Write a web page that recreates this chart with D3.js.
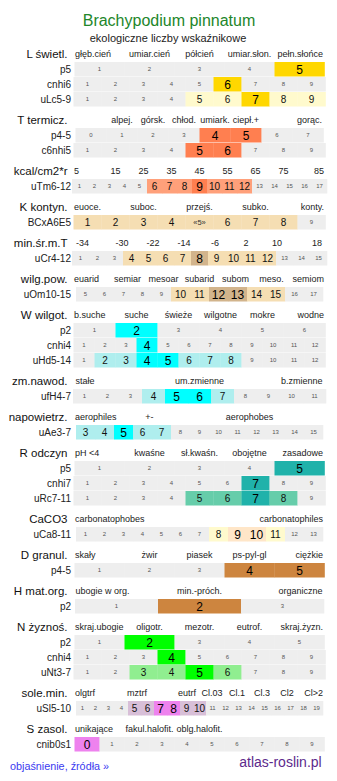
<!DOCTYPE html>
<html><head><meta charset="utf-8">
<script src="https://cdn.jsdelivr.net/npm/d3@7"></script>
<style>
body{margin:0;background:#fff;}
svg{display:block;font-family:"Liberation Sans",Arial,Helvetica,sans-serif;}
</style>
</head><body>
<svg id="chart" width="337" height="781"></svg>
<script>
// ---------- DATA ----------
const title = "Brachypodium pinnatum";
const subtitle = "ekologiczne liczby wskaźnikowe";
const footerLeft = "objaśnienie, źródła »";
const footerRight = "atlas-roslin.pl";

const groupNames = ["L świetl.","T termicz.","kcal/cm2*r","K kontyn.","min.śr.m.T","wilg.pow.","W wilgot.","zm.nawod.","napowietrz.","R odczyn","CaCO3","D granul.","H mat.org.","N żyznoś.","sole.min.","S zasol."];

const groupTicks = [
  ["głęb.cień","umiar.cień","półcień","umiar.słon.","pełn.słońce"],
  ["","alpej.","górsk.","chłod.","umiark.","ciepł.+","","gorąc."],
  ["5","15","25","35","45","55","65","75","85"],
  ["euoce.","","suboc.","","przejś.","","subko.","","konty."],
  ["-34","-30","-22","-14","-6","2","10","18"],
  ["euarid","semiar","mesoar","subarid","subom","meso.","semiom"],
  ["b.suche","suche","świeże","wilgotne","mokre","wodne"],
  ["stałe","um.zmienne","b.zmienne"],
  ["aerophiles","+-","","aerophobes",""],
  ["pH <4","kwaśne","sł.kwaśn.","obojętne","zasadowe"],
  ["carbonatophobes","carbonatophiles"],
  ["skały","żwir","piasek","ps-pyl-gl","ciężkie"],
  ["ubogie w org.","min.-próch.","organiczne"],
  ["skraj.ubogie","oligotr.","mezotr.","eutrof.","skraj.żyzn."],
  ["olgtrf","","mztrf","","eutrf","Cl.03","Cl.1","Cl.3","Cl2","Cl>2"],
  ["unikające","fakul.halofit.","oblg.halofit.","",""]
];

const groupMainColors  = ["#ffd700","#ff7f50","#ff7f50","#f5deb3","#d2b48c","#d2b48c","#00ffff","#00ffff","#00ffff","#20b2aa","#ffe6c8","#cd853f","#cd853f","#00ff00","#ee82ee","#ee82ee"];
const groupRangeColors = ["#fffacd","#ffa07a","#ffa07a","#f5deb3","#f5deb3","#f5deb3","#afeeee","#afeeee","#afeeee","#66cdaa","#fffacd","#deb887","#deb887","#90ee90","#d8bfd8","#d8bfd8"];

const rowGroup  = [0,0,0,1,1,2,3,4,5,6,6,6,7,8,9,9,9,10,11,12,13,13,13,14,15];
const rowNames  = ["p5","cnhi6","uLc5-9","p4-5","c6nhi5","uTm6-12","BCxA6E5","uCr4-12","uOm10-15","p2","cnhi4","uHd5-14","ufH4-7","uAe3-7","p5","cnhi7","uRc7-11","uCa8-11","p4-5","p2","p2","cnhi4","uNt3-7","uSl5-10","cnib0s1"];
const rowExtent = [[1,5],[1,9],[1,9],[0,7],[1,9],[1,17],[1,9],[1,15],[5,17],[1,6],[1,12],[1,12],[1,11],[3,15],[1,5],[1,9],[1,9],[1,13],[1,5],[1,3],[1,5],[1,9],[1,9],[1,19],[0,9]];
const rowMain   = [[5],[6],[7],[4,5],[5,6],[9],[],[8],[12,13],[2],[4],[4,5],[5,6],[5],[5],[7],[7],[9,10],[4,5],[2],[2],[4],[5],[7,8],[0]];
const rowRange  = [[],[],[5,6,8,9],[],[],[6,7,8,10,11,12],[1,2,3,4,5,6,7,8],[4,5,6,7,9,10,11,12],[10,11,14,15],[],[],[2,3,6,7,8],[4,7],[3,4,6,7],[],[],[5,6,8],[8,11],[],[],[],[],[3,4,6],[5,6,9,10],[]];
const quotedCells = [[6,5]]; // row index, value shown as «v»

// ---------- LAYOUT ----------
const svg = d3.select("#chart");
const CX = 199.5, SPAN = 250;
const HEAD_X = 67.5, ROWLAB_X = 71;
const ROW_H = 14.5, ROW_PITCH = 15;
const FONT = '"Liberation Sans",Arial,Helvetica,sans-serif';

function bandFor(domain){
  const n = domain.length, w = Math.round(SPAN / n), W = n * w;
  return d3.scaleBand().domain(domain).range([CX - W/2, CX + W/2]).paddingInner(0).paddingOuter(0);
}

svg.append("text").attr("x",169).attr("y",20).attr("dy","0.35em")
  .attr("text-anchor","middle").attr("font-size",16).attr("fill","#22862a").text(title);
svg.append("text").attr("x",168).attr("y",38).attr("dy","0.35em")
  .attr("text-anchor","middle").attr("font-size",11).attr("fill","#222").text(subtitle);

// group header y positions
const groupY = [];
let cursor = 54;
groupNames.forEach((g,gi)=>{
  groupY[gi] = cursor;
  const n = rowGroup.filter(r=>r===gi).length;
  cursor += 36 + ROW_PITCH*(n-1);
});

groupNames.forEach((g,gi)=>{
  const y = groupY[gi];
  svg.append("text").attr("x",HEAD_X).attr("y",y).attr("dy","0.35em")
    .attr("text-anchor","end").attr("font-size",11.5).attr("fill","#111").text(g);
  const ticks = groupTicks[gi];
  const sc = bandFor(ticks.map((t,i)=>i));
  const [r0,r1] = sc.range();
  ticks.forEach((t,i)=>{
    if(!t) return;
    let x, anchor;
    if(i===0){ x = r0 + 0.5; anchor = "start"; }
    else if(i===ticks.length-1){ x = r1 - 1.5; anchor = "end"; }
    else { x = sc(i) + sc.bandwidth()/2; anchor = "middle"; }
    svg.append("text").attr("x",x).attr("y",y).attr("dy","0.35em")
      .attr("text-anchor",anchor).attr("font-size",9).attr("fill","#222").text(t);
  });
});

// rows
const rowIdxInGroup = {};
rowNames.forEach((name,ri)=>{
  const gi = rowGroup[ri];
  const k = rowIdxInGroup[gi] = (rowIdxInGroup[gi]===undefined ? 0 : rowIdxInGroup[gi]+1);
  const top = groupY[gi] + 8 + k*ROW_PITCH;
  const cy = top + ROW_H/2;
  const domain = d3.range(rowExtent[ri][0], rowExtent[ri][1]+1);
  const x = bandFor(domain);
  const bw = x.bandwidth();

  svg.append("text").attr("x",ROWLAB_X).attr("y",cy).attr("dy","0.35em")
    .attr("text-anchor","end").attr("font-size",10).attr("fill","#222").text(name);

  const g = svg.append("g");
  g.selectAll("rect").data(domain).join("rect")
    .attr("x",d=>x(d)).attr("y",top).attr("width",bw+0.3).attr("height",ROW_H)
    .attr("fill",d=> rowMain[ri].includes(d) ? groupMainColors[gi]
                    : rowRange[ri].includes(d) ? groupRangeColors[gi] : "#eeeeee");
  g.selectAll("text").data(domain).join("text")
    .attr("x",d=>x(d)+bw/2).attr("y",cy).attr("dy","0.36em").attr("text-anchor","middle")
    .each(function(d){
      const el = d3.select(this);
      const quoted = quotedCells.some(q=>q[0]===ri && q[1]===d);
      if(quoted){ el.attr("font-size",7.5).attr("fill","#333").text("«"+d+"»"); }
      else if(rowMain[ri].includes(d)){ el.attr("font-size",12).attr("fill","#000").text(d); }
      else if(rowRange[ri].includes(d)){ el.attr("font-size",10).attr("fill","#111").text(d); }
      else { el.attr("font-size",6).attr("fill","#555").text(d); }
    });
});

svg.append("text").attr("x",10).attr("y",766).attr("dy","0.35em")
  .attr("font-size",10.8).attr("fill","#3a3af0").text(footerLeft);
svg.append("text").attr("x",321.7).attr("y",762.5).attr("dy","0.35em")
  .attr("text-anchor","end").attr("font-size",14).attr("fill","#5c2a8c").text(footerRight);
</script>
</body></html>
